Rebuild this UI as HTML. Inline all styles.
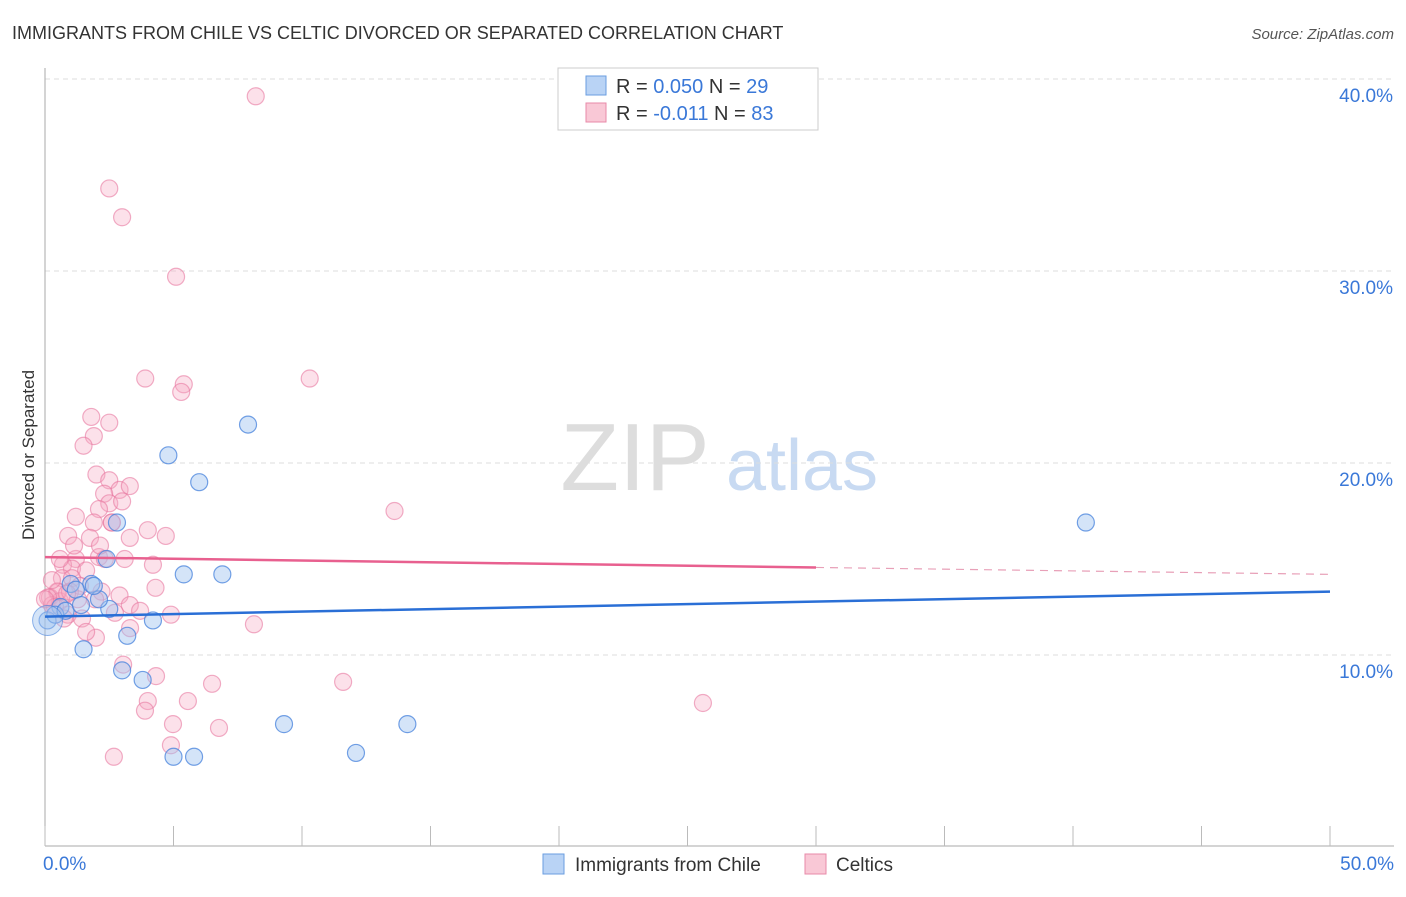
<!DOCTYPE html>
<html><head><meta charset="utf-8"><style>
body{margin:0;background:#fff;font-family:"Liberation Sans",sans-serif}
svg text{font-family:"Liberation Sans",sans-serif}
</style></head><body>
<svg id="c" width="1406" height="892" viewBox="0 0 1406 892">
<text x="12" y="39" font-size="18" fill="#333">IMMIGRANTS FROM CHILE VS CELTIC DIVORCED OR SEPARATED CORRELATION CHART</text>
<text x="1394" y="39" font-size="15" fill="#555" font-style="italic" text-anchor="end">Source: ZipAtlas.com</text>
<text x="34" y="455" font-size="17" fill="#333" text-anchor="middle" transform="rotate(-90 34 455)">Divorced or Separated</text>
<g><text x="635" y="490" font-size="96" fill="#ddd" font-family="Liberation Serif" text-anchor="middle">ZIP</text><text x="802" y="490" font-size="72" fill="#c8daf2" text-anchor="middle">atlas</text></g>
<g id="grid"></g><g id="axes"></g><g id="pts"></g><g id="trend"></g>
<g>
<rect x="558" y="68" width="260" height="62" fill="#fff" stroke="#ccc"/>
<rect x="586" y="76" width="20" height="19" fill="#b9d3f5" stroke="#6a9ee0"/>
<rect x="586" y="103" width="20" height="19" fill="#f9c8d6" stroke="#e88aa8"/>
<text x="616" y="93" font-size="20" fill="#333">R = <tspan fill="#3a78d8">0.050</tspan>   N = <tspan fill="#3a78d8">29</tspan></text>
<text x="616" y="120" font-size="20" fill="#333">R = <tspan fill="#3a78d8">-0.011</tspan>   N = <tspan fill="#3a78d8">83</tspan></text>
</g>
<g>
<rect x="543" y="854" width="21" height="20" fill="#b9d3f5" stroke="#6a9ee0"/>
<text x="575" y="871" font-size="19" fill="#333">Immigrants from Chile</text>
<rect x="805" y="854" width="21" height="20" fill="#f9c8d6" stroke="#e88aa8"/>
<text x="836" y="871" font-size="19" fill="#333">Celtics</text>
</g>
</svg>
<script>
const yTicks=[10,20,30,40];
const yTickLabels=["10.0%","20.0%","30.0%","40.0%"];
const xTickLabels=["0.0%","50.0%"];
const chileX=[7.9,4.8,6.0,2.8,2.4,5.4,6.9,1.8,1.0,2.5,4.2,3.2,1.5,3.0,3.8,9.3,12.1,14.1,5.0,5.8,40.5,0.1,0.6,1.2,2.1,0.4,0.8,1.9,1.4];
const chileY=[22.0,20.4,19.0,16.9,15.0,14.2,14.2,13.7,13.7,12.4,11.8,11.0,10.3,9.2,8.7,6.4,4.9,6.4,4.7,4.7,16.9,11.8,12.5,13.4,12.9,12.1,12.3,13.6,12.6];
const celticX=[8.2,2.5,3.0,5.1,3.9,5.4,5.3,10.3,1.8,2.5,1.9,1.5,2.0,2.5,2.9,3.3,2.3,2.5,3.0,2.1,2.6,1.9,1.2,0.9,1.75,4.0,4.7,3.1,4.2,1.2,2.1,13.6,2.6,0.7,1.05,1.6,2.2,2.9,4.3,3.3,4.9,0.66,1.05,1.36,0.47,0.19,0.58,0.89,1.44,1.98,3.31,8.13,0.51,0.97,0.27,3.04,4.32,4.0,3.89,5.56,6.5,11.6,4.98,6.77,4.9,2.68,25.6,0.12,0.39,0.74,1.28,1.6,3.7,2.72,1.95,0.86,2.33,0.27,2.14,1.13,0.58,0,3.3];
const celticY=[39.1,34.3,32.8,29.7,24.4,24.1,23.7,24.4,22.4,22.1,21.4,20.9,19.4,19.1,18.6,18.8,18.4,17.9,18.0,17.6,16.9,16.9,17.2,16.2,16.1,16.5,16.2,15.0,14.7,15.0,15.1,17.5,16.9,14.7,14.5,14.4,13.3,13.1,13.5,12.6,12.1,14.0,14.0,13.6,13.3,13.0,12.8,12.1,11.9,10.9,11.4,11.6,13.3,13.3,12.6,9.5,8.9,7.6,7.1,7.6,8.5,8.6,6.4,6.2,5.3,4.7,7.5,13.0,12.5,11.9,12.9,11.2,12.3,12.2,12.9,13.2,15.0,13.9,15.7,15.7,15.0,12.9,16.1];
const chileTrend=[12.0,13.3];
const celticTrend=[15.1,14.2];
const NS="http://www.w3.org/2000/svg";
const X0=45,X1=1330,Y0=847,PY=19.2;
function sx(v){return X0+(X1-X0)*v/50;}
function sy(v){return Y0-PY*v;}
function mk(t,a,p){const e=document.createElementNS(NS,t);for(const k in a)e.setAttribute(k,a[k]);p.appendChild(e);return e;}
const grid=document.getElementById('grid'),axes=document.getElementById('axes'),pts=document.getElementById('pts'),tr=document.getElementById('trend');
yTicks.forEach((t,i)=>{
 const l=mk('line',{x1:X0,x2:1394,y1:sy(t),y2:sy(t),stroke:'#ddd','stroke-dasharray':'5,4'},grid);
 
 
 const tx=mk('text',{x:1393,y:sy(t)+23,'font-size':19,fill:'#3a78d8','text-anchor':'end'},axes);
 tx.textContent=yTickLabels[i];
 
 
});
const ya=mk('line',{x1:X0,x2:X0,y1:68,y2:846,stroke:'#aaa'},axes);


const xa=mk('line',{x1:X0,x2:1394,y1:846,y2:846,stroke:'#aaa'},axes);


for(let k=0;k<=10;k++){
 const t=mk('line',{x1:sx(k*5),x2:sx(k*5),y1:826,y2:846,stroke:'#bbb'},axes);
 
 
}
[[0,'start',X0-2],[50,'end',1394]].forEach((a,i)=>{
 const tx=mk('text',{x:a[2],y:870,'font-size':19,fill:'#3a78d8','text-anchor':a[1]},axes);
 tx.textContent=xTickLabels[i];
 
 
});
celticX.forEach((x,i)=>{
 const c=mk('circle',{cx:sx(x),cy:sy(celticY[i]),r:8.5,fill:'rgba(245,170,195,0.35)',stroke:'rgba(232,120,160,0.6)','stroke-width':1.2},pts);
 
 
});
chileX.forEach((x,i)=>{
 const c=mk('circle',{cx:sx(x),cy:sy(chileY[i]),r:8.5,fill:'rgba(160,195,240,0.45)',stroke:'rgba(70,130,220,0.75)','stroke-width':1.2},pts);
 
 
});
const big=mk('circle',{cx:sx(0.1),cy:sy(11.8),r:15,fill:'rgba(160,195,240,0.45)',stroke:'rgba(70,130,220,0.6)'},pts);


const bl=mk('line',{x1:sx(0),x2:sx(50),y1:sy(chileTrend[0]),y2:sy(chileTrend[1]),stroke:'#2a6fd6','stroke-width':2.5},tr);


const f=(30/50);
const pm=celticTrend[0]+(celticTrend[1]-celticTrend[0])*f;
const pl=mk('line',{x1:sx(0),x2:sx(30),y1:sy(celticTrend[0]),y2:sy(pm),stroke:'#e8608f','stroke-width':2.5},tr);


const pd=mk('line',{x1:sx(30),x2:sx(50),y1:sy(pm),y2:sy(celticTrend[1]),stroke:'#e8a0b8','stroke-width':1.2,'stroke-dasharray':'8,6'},tr);


</script>
</body></html>
